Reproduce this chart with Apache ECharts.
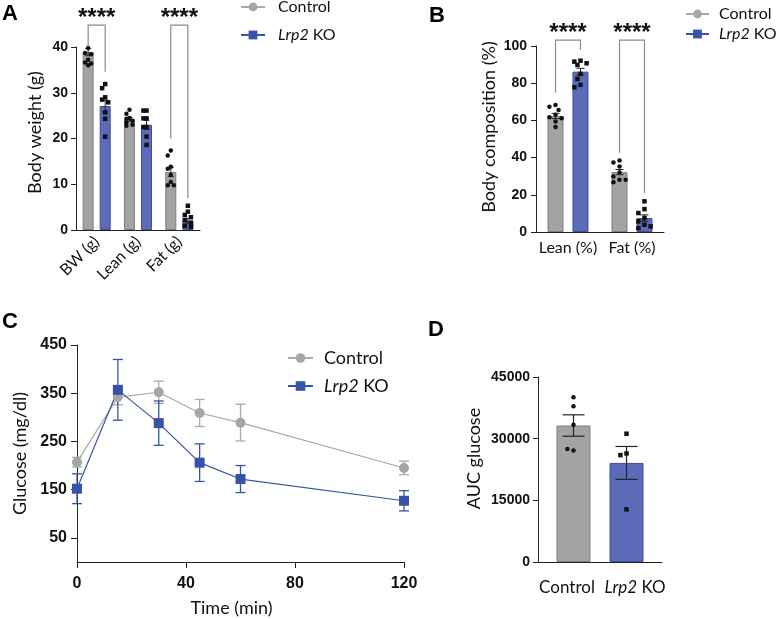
<!DOCTYPE html>
<html><head><meta charset="utf-8">
<script src="https://cdn.jsdelivr.net/npm/echarts@6/dist/echarts.min.js"></script>
<style>html,body{margin:0;padding:0;background:#fff}#c{width:778px;height:619px}</style>
</head><body><div id="c"></div>
<script>
// ---------- Panel A : body weight ----------
const A_categories = ['BW (g)', 'Lean (g)', 'Fat (g)'];
const A_ctrlMean = [38.9, 24.2, 12.7];
const A_ctrlSem = [0.8, 0.4, 1.0];
const A_koMean = [27.1, 23.0, 2.0];
const A_koSem = [1.3, 1.0, 0.5];
const A_ctrlPoints = [
  [39.8, 38.7, 38.4, 37.2, 36.6, 36.4, 36.0],
  [26.3, 25.4, 24.5, 24.3, 23.9, 23.5, 23.0, 22.8],
  [17.4, 16.3, 13.8, 13.4, 12.0, 10.5, 9.8, 9.8]
];
const A_koPoints = [
  [31.9, 31.0, 29.0, 28.5, 27.9, 25.7, 24.3, 20.4],
  [26.1, 26.1, 24.4, 24.4, 22.5, 22.5, 20.4, 18.6],
  [5.3, 4.0, 3.3, 2.8, 2.2, 1.6, 0.9, 0.7]
];
// [category, control leg end, KO leg end, bracket top, stars level]
const A_brackets = [[0, 40.1, 34.6, 44.8, 47.4], [2, 20.0, 7.0, 44.8, 47.4]];

// ---------- Panel B : body composition ----------
const B_categories = ['Lean (%)', 'Fat (%)'];
const B_ctrlMean = [62.4, 32.2];
const B_ctrlSem = [1.4, 1.4];
const B_koMean = [86.2, 7.5];
const B_koSem = [1.8, 1.7];
const B_ctrlPoints = [
  [68.3, 67.4, 65.6, 63.0, 61.7, 61.2, 59.4, 56.4],
  [38.5, 37.4, 35.2, 32.0, 29.9, 28.1, 28.1, 26.7]
];
const B_koPoints = [
  [92.1, 91.6, 90.7, 89.8, 85.0, 82.3, 79.1, 77.8],
  [16.5, 12.3, 10.2, 7.5, 5.7, 3.9, 3.0, 2.1]
];
const B_brackets = [[0, 74.8, 98.0, 103.2, 109.6], [1, 42.6, 21.0, 103.2, 109.6]];

// ---------- Panel C : glucose tolerance ----------
const C_time = [0, 15, 30, 45, 60, 120];
const C_ctrlMean = [207, 342, 352, 309, 289, 195];
const C_ctrlSem = [10, 16, 23, 28, 38, 14];
const C_koMean = [152, 357, 288, 206, 172, 127];
const C_koSem = [31, 63, 46, 39, 28, 21];
const C_yTicks = [50, 150, 250, 350, 450];

// ---------- Panel D : AUC ----------
const D_groups = ['Control', 'Lrp2 KO'];
const D_mean = [33200, 24100];
const D_sem = [2600, 4000];
const D_ctrlPoints = [40100, 37900, 33400, 27100, 27500];
const D_koPoints = [31200, 26400, 26000, 12800];

// ---------- styles ----------
const GRAY = '#a3a3a6', GRAY_B = '#7e7e80';
const BLUE = '#5b6bb8', BLUE_B = '#3c4fa2';
const LINE_GRAY = '#a9a9a9', LINE_BLUE = '#3853a6';
const TXT = 'Lato';
const barA = {w: 11, gap: 0.55}, barB = {w: 16, gap: 0.56}, barD = {w: 34, gap: 0.56};
const off = b => (b.w + b.w * b.gap) / 2;

function swarmOffsets(ys, d, maxOff) {
  const placed = [], out = [];
  const step = d * 0.6;
  ys.forEach(y => {
    let best = 0, bestScore = -1;
    for (let k = 0; k < 12; k++) {
      const m = Math.ceil(k / 2) * (k % 2 ? -1 : 1) * step;
      if (Math.abs(m) > maxOff) continue;
      let minD = Infinity;
      placed.forEach(p => { minD = Math.min(minD, Math.hypot(p[0] - m, p[1] - y)); });
      if (minD >= d) { best = m; bestScore = Infinity; break; }
      if (minD > bestScore) { bestScore = minD; best = m; }
    }
    placed.push([best, y]); out.push(best);
  });
  return out;
}

function dotSeries(xi, yi, pointsByCat, side, offsetPx, symbol, size, maxOff) {
  const data = [];
  pointsByCat.forEach((arr, c) => arr.forEach((v, k) => data.push([c, v, k])));
  return {
    type: 'custom', xAxisIndex: xi, yAxisIndex: yi, z: 6, silent: true, data,
    encode: {x: 0, y: 1},
    renderItem(params, api) {
      const c = api.value(0), k = api.value(2);
      const ys = pointsByCat[c].map(v => api.coord([c, v])[1]);
      const offs = swarmOffsets(ys, size + 0.6, maxOff);
      const p = api.coord([c, api.value(1)]);
      const x = p[0] + side * offsetPx + offs[k], y = p[1];
      if (symbol === 'circle') return {type: 'circle', shape: {cx: x, cy: y, r: size / 2}, style: {fill: '#111'}};
      return {type: 'rect', shape: {x: x - size / 2, y: y - size / 2, width: size, height: size}, style: {fill: '#111'}};
    }
  };
}

function errSeries(xi, yi, xs, means, sems, side, offsetPx, cap, color, width, z) {
  return {
    type: 'custom', xAxisIndex: xi, yAxisIndex: yi, z: z || 5, silent: true,
    data: means.map((m, i) => [xs[i], m, sems[i]]),
    encode: {x: 0, y: 1},
    renderItem(params, api) {
      const c = api.value(0), m = api.value(1), s = api.value(2);
      const t = api.coord([c, m + s]), b = api.coord([c, m - s]);
      const x = t[0] + side * offsetPx;
      const st = {stroke: color, lineWidth: width};
      return {type: 'group', children: [
        {type: 'line', shape: {x1: x, y1: t[1], x2: x, y2: b[1]}, style: st},
        {type: 'line', shape: {x1: x - cap / 2, y1: t[1], x2: x + cap / 2, y2: t[1]}, style: st},
        {type: 'line', shape: {x1: x - cap / 2, y1: b[1], x2: x + cap / 2, y2: b[1]}, style: st}
      ]};
    }
  };
}

function bracketSeries(xi, yi, brackets, offsetPx) {
  return {
    type: 'custom', xAxisIndex: xi, yAxisIndex: yi, z: 6, silent: true, data: brackets,
    encode: {x: 0, y: 3},
    renderItem(params, api) {
      const c = api.value(0);
      const pt = api.coord([c, api.value(3)]);
      const yL = api.coord([c, api.value(1)])[1], yR = api.coord([c, api.value(2)])[1];
      const yS = api.coord([c, api.value(4)])[1];
      const xL = pt[0] - offsetPx, xR = pt[0] + offsetPx;
      return {type: 'group', children: [
        {type: 'polyline', shape: {points: [[xL, yL], [xL, pt[1]], [xR, pt[1]], [xR, yR]]},
         style: {stroke: '#8a8a8a', lineWidth: 1.2, fill: null}},
        {type: 'text', x: pt[0], y: yS + 5,
         style: {text: '****', fontSize: 24, fontWeight: 'bold', fontFamily: 'Liberation Sans',
                 fill: '#111', align: 'center', verticalAlign: 'middle'}}
      ]};
    }
  };
}

const richItalic = size => ({i: {fontFamily: TXT, fontSize: size, fontStyle: 'italic', color: '#111'}});
const koFmt = n => n === 'Lrp2 KO' ? '{i|Lrp2} KO' : n;
const plainNum = v => String(v);

const axisLine = {show: true, lineStyle: {color: '#222', width: 1}};
const yTick = {show: true, length: 5, lineStyle: {color: '#222', width: 1}};
const numLabel = size => ({color: '#111', fontFamily: 'Liberation Sans', fontWeight: 'bold', fontSize: size, formatter: plainNum});
const nameStyle = pad => ({color: '#111', fontFamily: TXT, fontWeight: 'normal', fontSize: 18, padding: pad});

function legendAt(left, top, w, h, gap, fs, pad) {
  return {
    orient: 'vertical', left, top, padding: 0, itemWidth: w, itemHeight: h, itemGap: gap,
    selectedMode: false, data: ['Control', 'Lrp2 KO'], formatter: koFmt,
    textStyle: {fontFamily: TXT, fontSize: fs, color: '#111', lineHeight: fs, padding: [0, 0, 0, pad], rich: richItalic(fs)}
  };
}

const titleStyle = {fontSize: 22, fontWeight: 'bold', fontFamily: 'Liberation Sans', color: '#000'};

const option = {
  animation: false,
  backgroundColor: '#fff',
  title: [
    {text: 'A', left: 2, top: 3, padding: 0, textStyle: titleStyle},
    {text: 'B', left: 429, top: 5, padding: 0, textStyle: titleStyle},
    {text: 'C', left: 2, top: 311, padding: 0, textStyle: titleStyle},
    {text: 'D', left: 428, top: 319, padding: 0, textStyle: titleStyle}
  ],
  legend: [
    legendAt(240, -1, 24, 11, 12, 16, 8),
    legendAt(685, 6, 23, 11, 4, 16, 5),
    legendAt(287, 349, 25, 12, 10, 18, 6)
  ],
  grid: [
    {left: 76, top: 47, width: 124, height: 183},
    {left: 536, top: 46, width: 128, height: 186},
    {left: 77, top: 345, width: 327, height: 217},
    {left: 538, top: 377, width: 124, height: 185},
    {left: 533, top: 377, width: 136, height: 185}
  ],
  xAxis: [
    {type: 'category', gridIndex: 0, data: A_categories, axisLine, axisTick: {show: false},
     axisLabel: {interval: 0, rotate: 45, margin: 9, color: '#111', fontFamily: TXT, fontSize: 16}},
    {type: 'category', gridIndex: 1, data: B_categories, axisLine, axisTick: {show: false},
     axisLabel: {interval: 0, margin: 8, color: '#111', fontFamily: TXT, fontSize: 16}},
    {type: 'value', gridIndex: 2, min: 0, max: 120, interval: 40, axisLine, splitLine: {show: false},
     axisTick: {show: true, length: 6, lineStyle: {color: '#222'}},
     axisLabel: Object.assign(numLabel(16), {margin: 14}),
     name: 'Time (min)', nameLocation: 'middle', nameGap: 37, nameTextStyle: nameStyle([0, 18, 0, 0])},
    {type: 'category', gridIndex: 3, data: [''], axisLine, axisTick: {show: false}, axisLabel: {show: false}},
    {type: 'category', gridIndex: 4, data: D_groups, axisLine: {show: false}, axisTick: {show: false},
     axisLabel: {interval: 0, margin: 17, color: '#111', fontFamily: TXT, fontSize: 17, formatter: koFmt, rich: richItalic(17)}}
  ],
  yAxis: [
    {type: 'value', gridIndex: 0, min: 0, max: 40, interval: 10, axisLine, axisTick: yTick, splitLine: {show: false},
     axisLabel: Object.assign(numLabel(14), {margin: 8}),
     name: 'Body weight (g)', nameLocation: 'middle', nameGap: 32, nameTextStyle: nameStyle([0, 0, 0, 12])},
    {type: 'value', gridIndex: 1, min: 0, max: 100, interval: 20, axisLine, axisTick: yTick, splitLine: {show: false},
     axisLabel: Object.assign(numLabel(14), {margin: 9}),
     name: 'Body composition (%)', nameLocation: 'middle', nameGap: 38, nameTextStyle: nameStyle([0, 0, 0, 24])},
    {type: 'value', gridIndex: 2, min: 0, max: 450, axisLine, splitLine: {show: false},
     axisTick: {show: true, length: 6, lineStyle: {color: '#222'}, customValues: C_yTicks},
     axisLabel: Object.assign(numLabel(16), {margin: 10, customValues: C_yTicks}),
     name: 'Glucose (mg/dl)', nameLocation: 'middle', nameGap: 48, nameTextStyle: nameStyle([0, 0, 0, 0])},
    {type: 'value', gridIndex: 3, min: 0, max: 45000, interval: 15000, axisLine, axisTick: yTick, splitLine: {show: false},
     axisLabel: Object.assign(numLabel(14), {margin: 8}),
     name: 'AUC glucose', nameLocation: 'middle', nameGap: 55, nameTextStyle: nameStyle([0, 0, 0, 22])},
    {type: 'value', gridIndex: 4, show: false}
  ],
  series: [
    // C lines first (legend icons come from them)
    {name: 'Control', type: 'line', xAxisIndex: 2, yAxisIndex: 2, z: 4,
     data: C_time.map((t, i) => [t, C_ctrlMean[i]]), symbol: 'circle', symbolSize: 10,
     lineStyle: {color: LINE_GRAY, width: 1.2}, itemStyle: {color: '#a6a6a6'}},
    {name: 'Lrp2 KO', type: 'line', xAxisIndex: 2, yAxisIndex: 2, z: 4,
     data: C_time.map((t, i) => [t, C_koMean[i]]), symbol: 'rect', symbolSize: 10,
     lineStyle: {color: LINE_BLUE, width: 1.2}, itemStyle: {color: '#3752a8'}},
    errSeries(2, 2, C_time, C_ctrlMean, C_ctrlSem, 0, 0, 10, LINE_GRAY, 1.3, 3),
    errSeries(2, 2, C_time, C_koMean, C_koSem, 0, 0, 10, LINE_BLUE, 1.3, 3),

    // A
    {name: 'Control', type: 'bar', xAxisIndex: 0, yAxisIndex: 0, data: A_ctrlMean, barWidth: barA.w, barGap: '55%',
     itemStyle: {color: GRAY, borderColor: GRAY_B, borderWidth: 1}},
    {name: 'Lrp2 KO', type: 'bar', xAxisIndex: 0, yAxisIndex: 0, data: A_koMean, barWidth: barA.w, barGap: '55%',
     itemStyle: {color: BLUE, borderColor: BLUE_B, borderWidth: 1}},
    errSeries(0, 0, [0, 1, 2], A_ctrlMean, A_ctrlSem, -1, off(barA), 6, '#222', 1),
    errSeries(0, 0, [0, 1, 2], A_koMean, A_koSem, 1, off(barA), 6, '#222', 1),
    dotSeries(0, 0, A_ctrlPoints, -1, off(barA), 'circle', 4.5, 5),
    dotSeries(0, 0, A_koPoints, 1, off(barA), 'rect', 4.5, 5),
    bracketSeries(0, 0, A_brackets, off(barA)),

    // B
    {name: 'Control', type: 'bar', xAxisIndex: 1, yAxisIndex: 1, data: B_ctrlMean, barWidth: barB.w, barGap: '56%',
     itemStyle: {color: GRAY, borderColor: GRAY_B, borderWidth: 1}},
    {name: 'Lrp2 KO', type: 'bar', xAxisIndex: 1, yAxisIndex: 1, data: B_koMean, barWidth: barB.w, barGap: '56%',
     itemStyle: {color: BLUE, borderColor: BLUE_B, borderWidth: 1}},
    errSeries(1, 1, [0, 1], B_ctrlMean, B_ctrlSem, -1, off(barB), 8, '#222', 1),
    errSeries(1, 1, [0, 1], B_koMean, B_koSem, 1, off(barB), 8, '#222', 1),
    dotSeries(1, 1, B_ctrlPoints, -1, off(barB), 'circle', 4.5, 7),
    dotSeries(1, 1, B_koPoints, 1, off(barB), 'rect', 4.5, 7),
    bracketSeries(1, 1, B_brackets, off(barB)),

    // D
    {name: 'Control', type: 'bar', xAxisIndex: 3, yAxisIndex: 3, data: [D_mean[0]], barWidth: barD.w, barGap: '56%',
     itemStyle: {color: GRAY, borderColor: GRAY_B, borderWidth: 1}},
    {name: 'Lrp2 KO', type: 'bar', xAxisIndex: 3, yAxisIndex: 3, data: [D_mean[1]], barWidth: barD.w, barGap: '56%',
     itemStyle: {color: BLUE, borderColor: BLUE_B, borderWidth: 1}},
    errSeries(3, 3, [0], [D_mean[0]], [D_sem[0]], -1, off(barD), 22, '#222', 1.2),
    errSeries(3, 3, [0], [D_mean[1]], [D_sem[1]], 1, off(barD), 22, '#222', 1.2),
    dotSeries(3, 3, [D_ctrlPoints], -1, off(barD), 'circle', 4.5, 8),
    dotSeries(3, 3, [D_koPoints], 1, off(barD), 'rect', 4.5, 8)
  ]
};

const chart = echarts.init(document.getElementById('c'), null, {renderer: 'canvas'});
chart.setOption(option);
</script>
</body></html>
